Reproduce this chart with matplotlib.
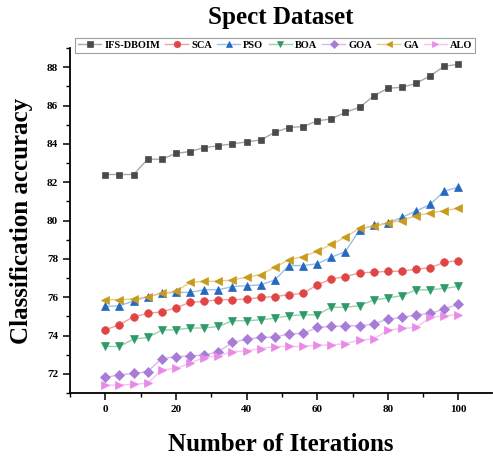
import matplotlib
matplotlib.use("Agg")
import matplotlib.pyplot as plt
from matplotlib.ticker import MultipleLocator

plt.rcParams['font.family'] = ['Liberation Serif', 'DejaVu Serif']
plt.rcParams['font.weight'] = 'bold'

iterations = list(range(0, 101, 4))

ifs_dboim = [82.4, 82.4, 82.4, 83.2, 83.2, 83.5, 83.6, 83.8, 83.9, 84.0, 84.1, 84.2, 84.6,
             84.85, 84.9, 85.2, 85.3, 85.65, 85.9, 86.5, 86.9, 86.95, 87.15, 87.55, 88.05, 88.15]
sca = [74.3, 74.56, 74.98, 75.15, 75.24, 75.44, 75.73, 75.78, 75.87, 75.87, 75.9, 75.99, 76.03,
       76.13, 76.2, 76.64, 76.95, 77.07, 77.27, 77.3, 77.35, 77.35, 77.47, 77.53, 77.82, 77.91]
pso = [75.52, 75.55, 75.8, 76.03, 76.2, 76.25, 76.25, 76.39, 76.39, 76.55, 76.6, 76.64, 76.9,
       77.65, 77.65, 77.74, 78.08, 78.38, 79.51, 79.74, 79.86, 80.17, 80.49, 80.84, 81.53, 81.74]
boa = [73.43, 73.43, 73.81, 73.9, 74.28, 74.3, 74.39, 74.39, 74.47, 74.77, 74.77, 74.82, 74.9,
       75.03, 75.08, 75.08, 75.47, 75.47, 75.56, 75.85, 75.96, 76.08, 76.38, 76.39, 76.46, 76.56]
goa = [71.81, 71.95, 72.02, 72.12, 72.8, 72.89, 72.94, 72.98, 73.15, 73.64, 73.81, 73.9, 73.92,
       74.08, 74.11, 74.42, 74.47, 74.51, 74.51, 74.6, 74.86, 74.94, 75.08, 75.15, 75.38, 75.64]
ga = [75.87, 75.87, 75.9, 76.03, 76.2, 76.3, 76.77, 76.83, 76.83, 76.9, 77.04, 77.18, 77.55,
      77.96, 78.12, 78.39, 78.75, 79.13, 79.6, 79.69, 79.86, 80.0, 80.26, 80.38, 80.52, 80.64]
alo = [71.41, 71.41, 71.46, 71.51, 72.21, 72.28, 72.56, 72.85, 72.94, 73.15, 73.2, 73.32, 73.42,
       73.43, 73.43, 73.5, 73.5, 73.58, 73.76, 73.81, 74.28, 74.37, 74.42, 74.94, 75.03, 75.08]

names = ['IFS-DBOIM', 'SCA', 'PSO', 'BOA', 'GOA', 'GA', 'ALO']
series = [ifs_dboim, sca, pso, boa, goa, ga, alo]
markers = ['s', 'o', '^', 'v', 'D', '<', '>']
marker_colors = ['#4a4a4a', '#e04545', '#2468c0', '#2f9a68', '#a77bd6', '#c99a1c', '#ea8ae8']
line_colors = ['#a8a8a8', '#f0a0a0', '#9cc0ea', '#96d0b4', '#d2bbec', '#e6cd8a', '#f4c4f2']
marker_sizes = [5, 5.5, 5.5, 5.5, 4.6, 5.5, 5.5]

fig = plt.figure(figsize=(4.93, 4.57), dpi=100)
ax = fig.add_axes([70 / 493, 64 / 457, 422 / 493, 345 / 457])

for ys, name, m, mc, lc, ms in zip(series, names, markers, marker_colors, line_colors, marker_sizes):
    ax.plot(iterations, ys, color=lc, linewidth=1.0, marker=m, markersize=ms,
            markerfacecolor=mc, markeredgecolor=mc, markeredgewidth=0.5, label=name)

ax.set_xlim(-10, 109.5)
ax.set_ylim(71, 89)
ax.xaxis.set_major_locator(MultipleLocator(20))
ax.xaxis.set_minor_locator(MultipleLocator(10))
ax.yaxis.set_major_locator(MultipleLocator(2))
ax.yaxis.set_minor_locator(MultipleLocator(1))

for side in ['top', 'right']:
    ax.spines[side].set_visible(False)
for side in ['left', 'bottom']:
    ax.spines[side].set_linewidth(1.3)

ax.tick_params(axis='both', which='major', direction='out', length=5, width=1.1,
               labelsize=8)
ax.tick_params(axis='both', which='minor', direction='out', length=3, width=1.0)
for lbl in ax.get_xticklabels() + ax.get_yticklabels():
    lbl.set_fontweight('bold')

ax.set_title('Spect Dataset', fontsize=18, fontweight='bold', pad=17)
ax.set_xlabel('Number of Iterations', fontsize=18, fontweight='bold', labelpad=14)
ax.set_ylabel('Classification accuracy', fontsize=18, fontweight='bold', labelpad=10)

leg = ax.legend(loc='upper left', bbox_to_anchor=(0.012, 1.03), ncol=7, fontsize=7.5,
                frameon=True, fancybox=False, handlelength=2.2, handletextpad=0.3,
                columnspacing=0.5, borderpad=0.3, borderaxespad=0.0, markerscale=0.85)
leg.get_frame().set_edgecolor('#888888')
leg.get_frame().set_linewidth(0.8)
for t in leg.get_texts():
    t.set_fontweight('bold')

fig.savefig('out.png', dpi=100)
